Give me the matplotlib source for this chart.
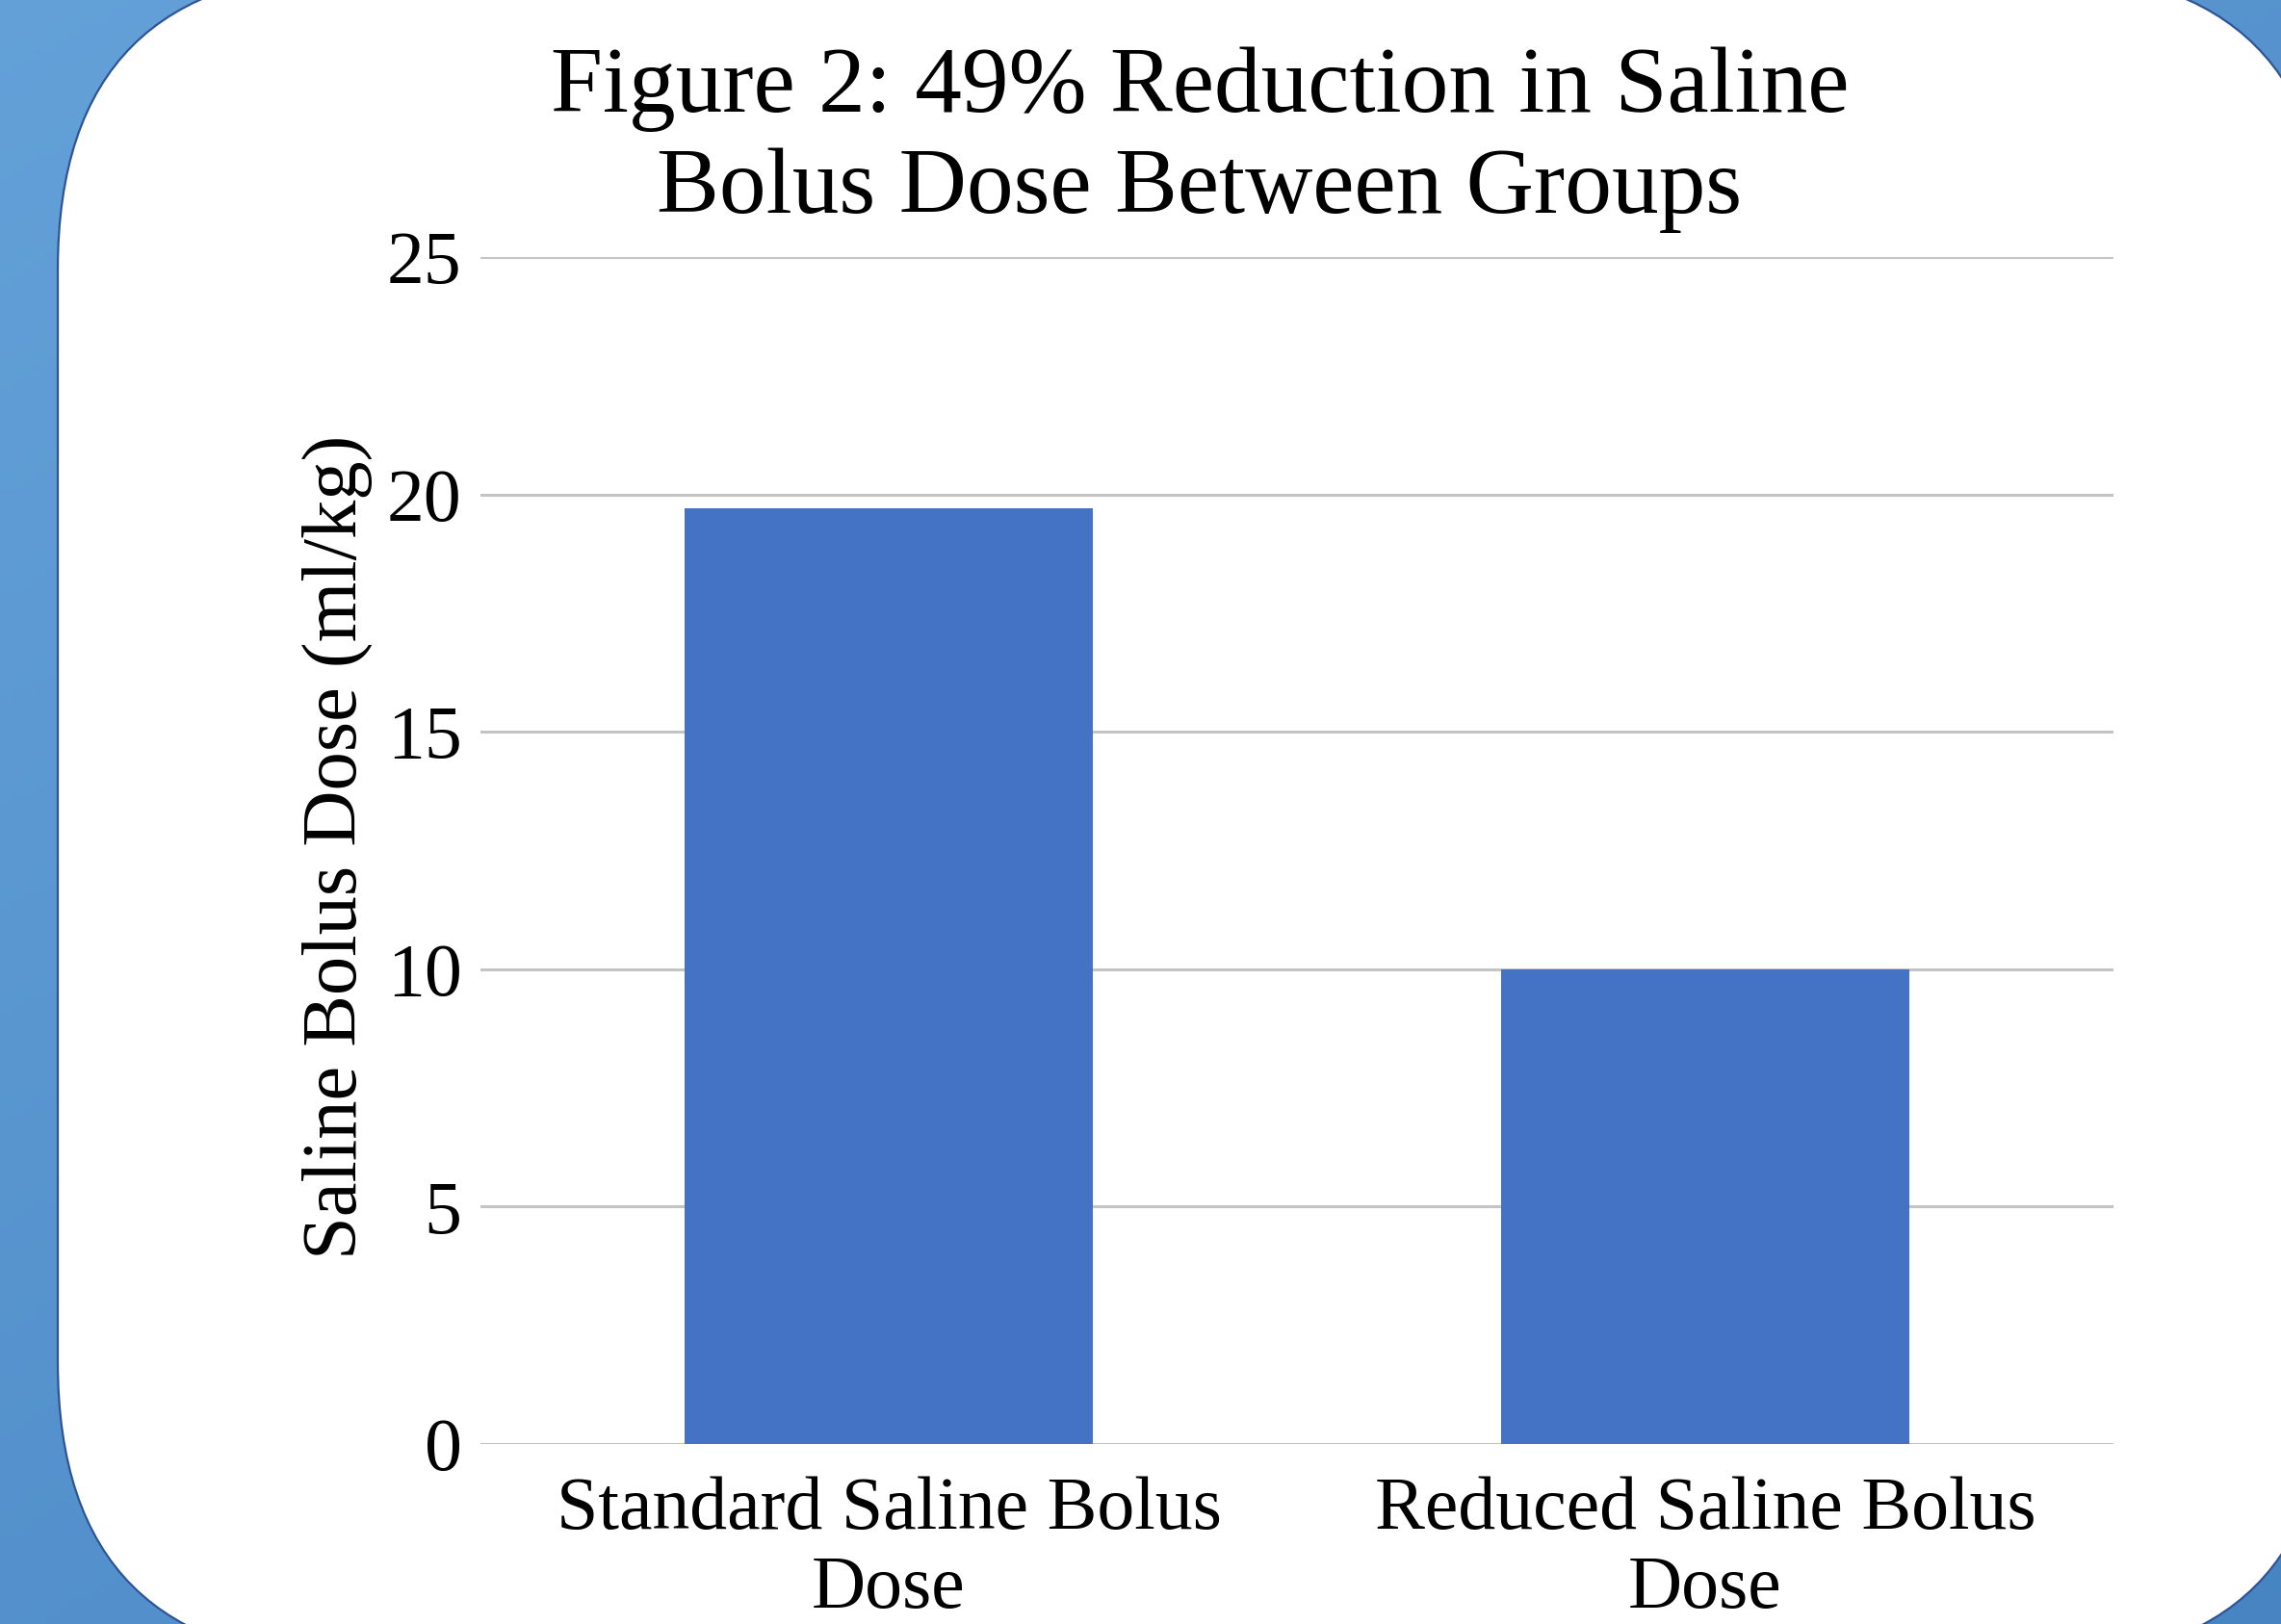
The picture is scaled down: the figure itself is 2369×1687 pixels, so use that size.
import numpy as np
import matplotlib
matplotlib.use('Agg')
import matplotlib.pyplot as plt
from matplotlib.patches import FancyBboxPatch

categories = ['Standard Saline Bolus\nDose', 'Reduced Saline Bolus\nDose']
doses = [19.7, 10.0]
y_ticks = [0, 5, 10, 15, 20, 25]
title = 'Figure 2: 49% Reduction in Saline\nBolus Dose Between Groups'
y_label = 'Saline Bolus Dose (ml/kg)'

plt.rcParams['font.family'] = ['Liberation Serif', 'DejaVu Serif']

W, H = 2369, 1687
fig = plt.figure(figsize=(W / 100, H / 100), dpi=100)

# backdrop: blue gradient and white rounded panel, in pixel coordinates
bg = fig.add_axes([0, 0, 1, 1])
bg.set_xlim(0, W)
bg.set_ylim(H, 0)
bg.axis('off')
yy, xx = np.mgrid[0:1:200j, 0:1:200j]
t = (0.45 * xx + 0.55 * yy)
c0 = np.array([0.39, 0.63, 0.85])
c1 = np.array([0.28, 0.52, 0.76])
grad = c0[None, None, :] * (1 - t[..., None]) + c1[None, None, :] * t[..., None]
bg.imshow(grad, extent=[0, W, H, 0], aspect='auto', zorder=0)
panel = FancyBboxPatch((60, -30), 2360, 1755,
                       boxstyle='round,pad=0,rounding_size=310',
                       facecolor='white', edgecolor='#2f5496', linewidth=1.6, zorder=1)
bg.add_patch(panel)

ax = fig.add_axes([499 / W, 1 - 1500 / H, (2195 - 499) / W, (1500 - 267) / H])
ax.set_facecolor('none')
x = np.arange(len(categories))
ax.bar(x, doses, width=0.5, color='#4472c4', zorder=3)
ax.set_xlim(-0.5, 1.5)
ax.set_ylim(0, 25)
ax.set_yticks(y_ticks)
ax.set_xticks(x)
ax.set_xticklabels(categories, fontsize=56, linespacing=1.2)
ax.tick_params(axis='y', labelsize=56, length=0, pad=14)
ax.tick_params(axis='x', length=0, pad=24)
ax.yaxis.grid(True, color='#c4c4c4', linewidth=2.2, zorder=0)
ax.set_axisbelow(True)
for s in ax.spines.values():
    s.set_visible(False)

fig.text(1246 / W, 1 - 145 / H, title, ha='center', va='center',
         fontsize=70, linespacing=1.24)
fig.text(350 / W, 1 - 880 / H, y_label, rotation=90, ha='center', va='center',
         fontsize=58)

fig.savefig('out.png', dpi=100)
